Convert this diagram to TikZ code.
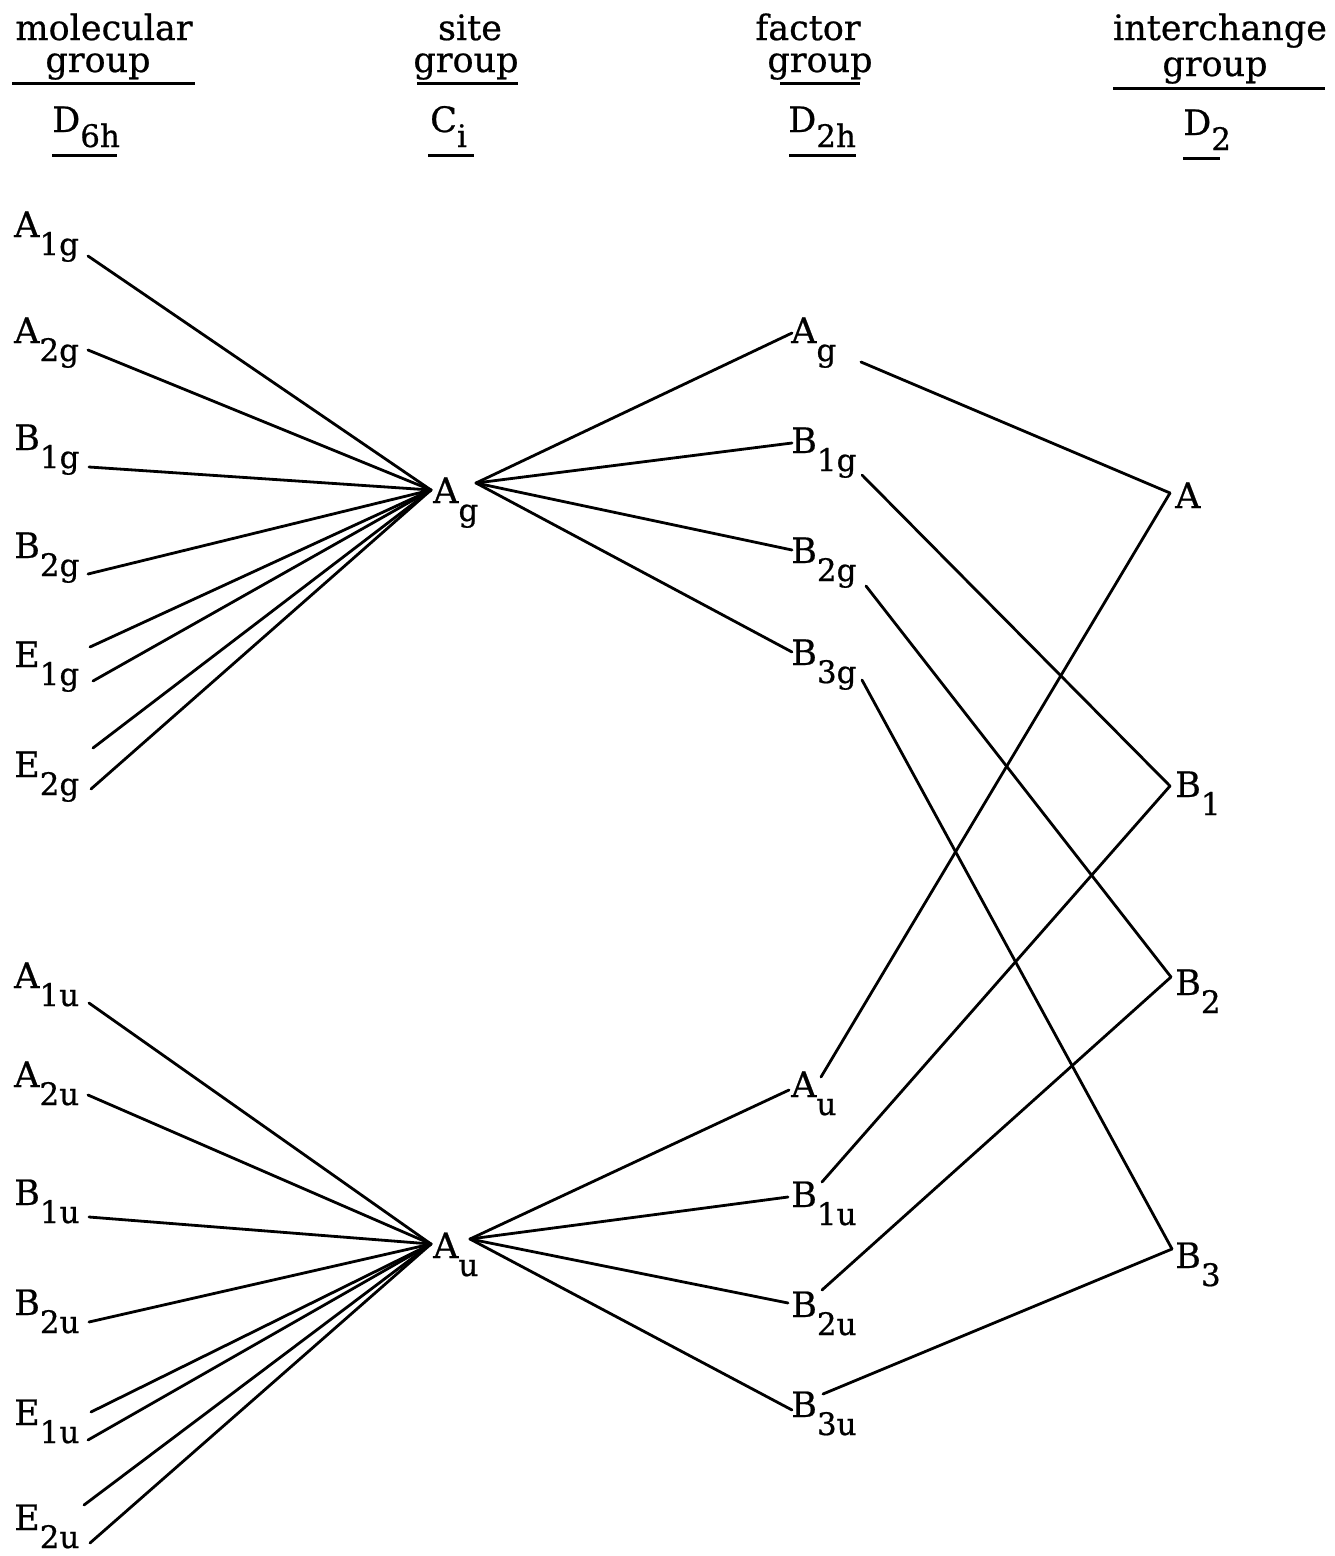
\documentclass[tikz,border=0pt]{standalone}
\usepackage{fontspec}
\setmainfont{DejaVu Serif}[FakeBold=0.6]
\newcommand{\dn}[1]{\raisebox{-18pt}{\fontsize{31}{31}\selectfont #1}}
\newcommand{\hdn}[1]{\raisebox{-15pt}{\fontsize{31}{31}\selectfont #1}}
\begin{document}
\begin{tikzpicture}[x=1pt,y=-1pt,
  lbl/.style={inner sep=0pt,anchor=base west,font=\fontsize{35}{35}\selectfont},
  hdr/.style={inner sep=0pt,anchor=base,font=\fontsize{35}{35}\selectfont},
  link/.style={line width=2.8pt,line cap=round},
  uline/.style={line width=3pt}]
\useasboundingbox[fill=white] (0,0) rectangle (1335,1556);

% ---- headers
\node[hdr] (hmol) at (104,40) {molecular};
\node[hdr] (hmolg) at (98,72) {group};
\node[lbl] (hD6h) at (52,132) {D\hdn{6h}};
\node[hdr] (hsite) at (470,40) {site};
\node[hdr] (hsiteg) at (466,72) {group};
\node[lbl] (hCi) at (430,132) {C\hdn{i}};
\node[hdr] (hfac) at (808,40) {factor};
\node[hdr] (hfacg) at (820,72) {group};
\node[lbl] (hD2h) at (788,132) {D\hdn{2h}};
\node[hdr] (hint) at (1220,40) {interchange};
\node[hdr] (hintg) at (1215,76) {group};
\node[lbl] (hD2) at (1183,135) {D\hdn{2}};

\draw[uline] (12,83) -- (195,83);
\draw[uline] (52,155) -- (117,155);
\draw[uline] (417,83) -- (518,83);
\draw[uline] (428,155) -- (474,155);
\draw[uline] (780,83) -- (860,83);
\draw[uline] (789,155) -- (856,155);
\draw[uline] (1113,88) -- (1325,88);
\draw[uline] (1183,158) -- (1220,158);

% ---- molecular group labels
\node[lbl] (A1g) at (14,237) {A\dn{1g}};
\node[lbl] (A2g) at (14,343) {A\dn{2g}};
\node[lbl] (B1g) at (14,450) {B\dn{1g}};
\node[lbl] (B2g) at (14,558) {B\dn{2g}};
\node[lbl] (E1g) at (14,667) {E\dn{1g}};
\node[lbl] (E2g) at (14,777) {E\dn{2g}};
\node[lbl] (A1u) at (14,988) {A\dn{1u}};
\node[lbl] (A2u) at (14,1087) {A\dn{2u}};
\node[lbl] (B1u) at (14,1205) {B\dn{1u}};
\node[lbl] (B2u) at (14,1315) {B\dn{2u}};
\node[lbl] (E1u) at (14,1425) {E\dn{1u}};
\node[lbl] (E2u) at (14,1530) {E\dn{2u}};

\coordinate (A1g-r) at (88,256);
\coordinate (A2g-r) at (88,350);
\coordinate (B1g-r) at (89,467);
\coordinate (B2g-r) at (88,574);
\coordinate (E1g-a) at (90,647);
\coordinate (E1g-b) at (93,681);
\coordinate (E2g-a) at (93,748);
\coordinate (E2g-b) at (91,789);
\coordinate (A1u-r) at (89,1003);
\coordinate (A2u-r) at (88,1095);
\coordinate (B1u-r) at (89,1217);
\coordinate (B2u-r) at (89,1322);
\coordinate (E1u-a) at (91,1412);
\coordinate (E1u-b) at (88,1440);
\coordinate (E2u-a) at (84,1505);
\coordinate (E2u-b) at (90,1543);

% ---- site group
\node[lbl] (sAg) at (433,503) {A\dn{g}};
\node[lbl] (sAu) at (433,1258) {A\dn{u}};
\coordinate (sAg-l) at (431,490);
\coordinate (sAg-r) at (476,483);
\coordinate (sAu-l) at (431,1244);
\coordinate (sAu-r) at (470,1239);

% ---- factor group
\node[lbl] (fAg) at (791,343) {A\dn{g}};
\node[lbl] (fB1g) at (791,453) {B\dn{1g}};
\node[lbl] (fB2g) at (791,563) {B\dn{2g}};
\node[lbl] (fB3g) at (791,665) {B\dn{3g}};
\node[lbl] (fAu) at (791,1097) {A\dn{u}};
\node[lbl] (fB1u) at (791,1207) {B\dn{1u}};
\node[lbl] (fB2u) at (791,1317) {B\dn{2u}};
\node[lbl] (fB3u) at (791,1417) {B\dn{3u}};

\coordinate (fAg-l) at (792,333);
\coordinate (fB1g-l) at (792,443);
\coordinate (fB2g-l) at (792,550);
\coordinate (fB3g-l) at (792,652);
\coordinate (fAu-l) at (789,1090);
\coordinate (fB1u-l) at (788,1197);
\coordinate (fB2u-l) at (788,1303);
\coordinate (fB3u-l) at (792,1410);
\coordinate (fAg-r) at (861,362);
\coordinate (fB1g-r) at (862,475);
\coordinate (fB2g-r) at (866,586);
\coordinate (fB3g-r) at (862,680);
\coordinate (fAu-r) at (821,1077);
\coordinate (fB1u-r) at (822,1182);
\coordinate (fB2u-r) at (822,1290);
\coordinate (fB3u-r) at (823,1394);

% ---- interchange group
\node[lbl] (iA) at (1175,508) {A};
\node[lbl] (iB1) at (1175,797) {B\dn{1}};
\node[lbl] (iB2) at (1175,995) {B\dn{2}};
\node[lbl] (iB3) at (1175,1268) {B\dn{3}};
\coordinate (iA-l) at (1170,493);
\coordinate (iB1-l) at (1170,786);
\coordinate (iB2-l) at (1171,977);
\coordinate (iB3-l) at (1172,1249);

% ---- connectors: molecular -> site
\foreach \p in {A1g-r,A2g-r,B1g-r,B2g-r,E1g-a,E1g-b,E2g-a,E2g-b}
  \draw[link] (\p) -- (sAg-l);
\foreach \p in {A1u-r,A2u-r,B1u-r,B2u-r,E1u-a,E1u-b,E2u-a,E2u-b}
  \draw[link] (\p) -- (sAu-l);

% ---- site -> factor
\foreach \p in {fAg-l,fB1g-l,fB2g-l,fB3g-l}
  \draw[link] (sAg-r) -- (\p);
\foreach \p in {fAu-l,fB1u-l,fB2u-l,fB3u-l}
  \draw[link] (sAu-r) -- (\p);

% ---- factor -> interchange
\draw[link] (fAg-r) -- (iA-l);
\draw[link] (fB1g-r) -- (iB1-l);
\draw[link] (fB2g-r) -- (iB2-l);
\draw[link] (fB3g-r) -- (iB3-l);
\draw[link] (fAu-r) -- (iA-l);
\draw[link] (fB1u-r) -- (iB1-l);
\draw[link] (fB2u-r) -- (iB2-l);
\draw[link] (fB3u-r) -- (iB3-l);
\end{tikzpicture}
\end{document}
